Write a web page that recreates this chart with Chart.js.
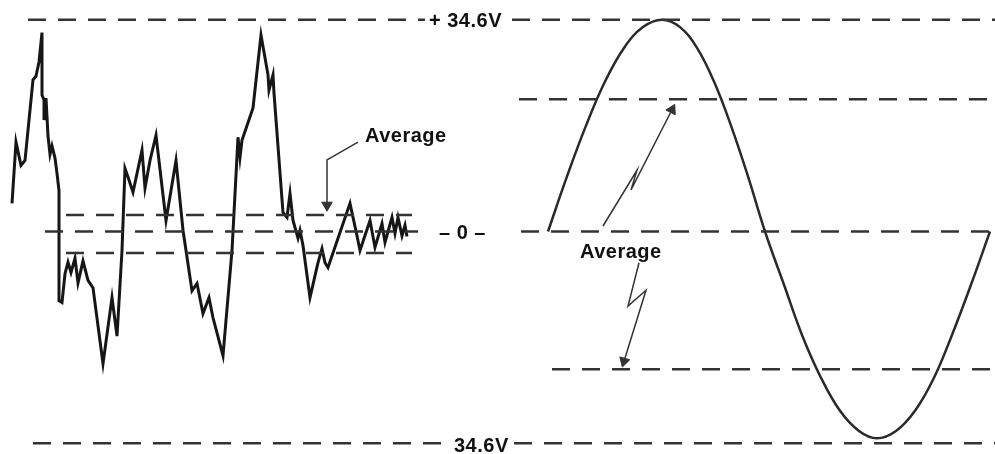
<!DOCTYPE html>
<html>
<head>
<meta charset="utf-8">
<script src="https://cdn.jsdelivr.net/npm/chart.js@4"></script>
<style>
  html, body { margin: 0; padding: 0; background: #fff; }
  #wrap { position: relative; width: 995px; height: 454px; }
  .lbl {
    position: absolute;
    font-family: "Liberation Sans", Arial, sans-serif;
    font-weight: bold;
    font-size: 20px;
    letter-spacing: 0.5px;
    color: #111;
    line-height: 1;
    transform: translateY(-50%);
    white-space: nowrap;
  }
</style>
</head>
<body>
<div id="wrap">
  <canvas id="wave" width="995" height="454"></canvas>
  <div class="lbl" style="left:429px; top:20px;">+ 34.6V</div>
  <div class="lbl" style="left:439px; top:232px;">– 0 –</div>
  <div class="lbl" style="left:454px; top:445px;">34.6V</div>
  <div class="lbl" style="left:365px; top:135px;">Average</div>
  <div class="lbl" style="left:580px; top:251px;">Average</div>
</div>
<script>
// --- values (t = time units, v = volts) ---
const noiseT = [12, 16, 21, 25, 33, 36, 39, 42, 42, 44, 44, 46, 48, 50, 52, 55, 57, 59, 59, 62,
  65, 68, 71, 75, 78, 83, 88, 93, 103, 112, 117, 122, 125, 128, 133, 142, 145, 150, 156, 166,
  176, 183, 192, 197, 203, 209, 213, 223, 232, 238, 240, 242, 253, 261, 268, 269, 273, 274, 283, 287,
  290, 293, 298, 300, 303, 310, 318, 322, 325, 328, 350, 357, 360, 370, 375, 382, 385, 392, 395, 398,
  402, 405, 407];
const noiseV = [4.6, 14.6, 10.8, 11.6, 24.8, 25.4, 27.7, 32.5, 22.3, 21.5, 18.2, 21.8, 15.6, 12.6, 14.0, 12.0, 9.5, 6.7, -11.3, -11.6,
  -6.9, -5.0, -6.7, -4.4, -8.4, -4.8, -8.0, -9.2, -21.6, -10.8, -17.1, -3.1, 10.3, 8.9, 6.4, 13.3, 7.1, 11.6, 15.7, 1.8,
  11.6, 0.2, -9.7, -8.5, -13.4, -10.8, -14.1, -20.3, -3.1, 15.4, 12.1, 14.9, 20.2, 32.1, 25.6, 23.1, 25.6, 22.6, 3.1, 2.3,
  6.2, 1.8, -1.1, 0.2, -2.3, -10.8, -5.1, -2.8, -5.1, -5.9, 4.6, -0.7, -3.1, 1.8, -2.6, 1.3, -1.8, 2.3, -0.3, 2.3,
  -0.7, 1.0, -0.8];

const sineT = [548, 567, 586, 605, 624, 643, 662, 680, 697, 714, 731, 748, 765,
  784, 802, 821, 840, 859, 877, 896, 915, 934, 952, 971, 990];
const sineV = [0, 9.0, 17.3, 24.5, 30.0, 33.4, 34.6, 33.4, 30.0, 24.5, 17.3, 9.0, 0,
  -8.7, -16.9, -23.9, -29.3, -32.6, -33.8, -32.6, -29.3, -23.9, -16.9, -8.7, 0];

// dashed reference levels: [start t, end t, volts]
const peakLevels = [[28, 425, 34.6], [512, 995, 34.6], [33, 447, -34.6], [514, 995, -34.6]];
const zeroLevels = [[45, 418, 0], [521, 995, 0]];
const avgLevels = [[66, 412, 2.7], [66, 412, -3.5], [519, 995, 21.6], [552, 995, -22.5]];

// pointer arrows (last point carries the head)
const arrowLeftT = [358, 327, 327];
const arrowLeftV = [14.6, 11.7, 4.3];
const arrowUpT = [603, 637, 631, 672];
const arrowUpV = [0.9, 10.0, 6.8, 19.9];
const arrowDownT = [639, 628, 646, 624];
const arrowDownV = [-5.1, -12.2, -9.6, -21.2];

const zip = (ts, vs) => ts.map((t, i) => ({ x: t, y: vs[i] }));

const datasets = [];

[...peakLevels, ...zeroLevels, ...avgLevels].forEach(([t0, t1, v]) => {
  datasets.push({
    data: [{ x: t0, y: v }, { x: t1, y: v }],
    borderColor: "#333",
    borderWidth: 2.5,
    borderDash: [18, 12],
    pointRadius: 0,
  });
});

datasets.push({
  data: zip(noiseT, noiseV),
  borderColor: "#161616",
  borderWidth: 3,
  pointRadius: 0,
  tension: 0,
});

datasets.push({
  data: zip(sineT, sineV),
  borderColor: "#2a2a2a",
  borderWidth: 2.5,
  pointRadius: 0,
  tension: 0.4,
});

function arrow(ts, vs, angle) {
  const last = ts.length - 1;
  return {
    data: zip(ts, vs),
    borderColor: "#333",
    backgroundColor: "#333",
    borderWidth: 1.5,
    pointStyle: "triangle",
    pointRadius: ctx => (ctx.dataIndex === last ? 6 : 0),
    pointRotation: angle,
    pointBorderWidth: 1,
  };
}
datasets.push(arrow(arrowLeftT, arrowLeftV, 180));
datasets.push(arrow(arrowUpT, arrowUpV, 27));
datasets.push(arrow(arrowDownT, arrowDownV, 196));

new Chart(document.getElementById("wave").getContext("2d"), {
  type: "line",
  data: { datasets },
  options: {
    responsive: false,
    animation: false,
    events: [],
    clip: false,
    layout: { padding: 0, autoPadding: false },
    plugins: { legend: { display: false }, tooltip: { enabled: false } },
    scales: {
      x: { type: "linear", min: 0, max: 995, display: false },
      y: { type: "linear", min: -36.36, max: 37.83, display: false },
    },
  },
});
</script>
</body>
</html>
